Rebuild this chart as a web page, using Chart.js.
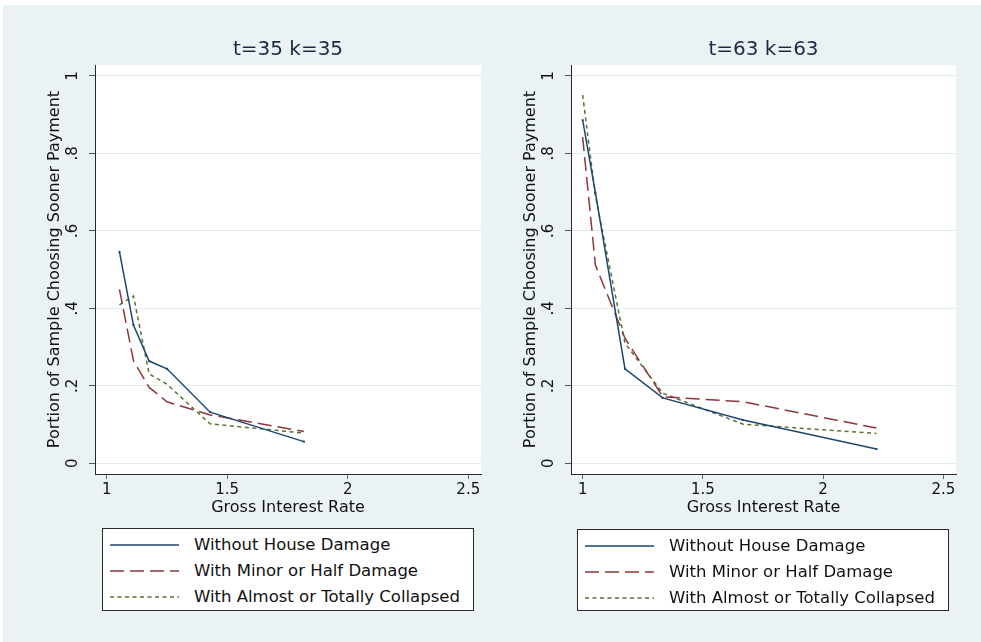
<!DOCTYPE html>
<html>
<head>
<meta charset="utf-8">
<script src="https://cdn.jsdelivr.net/npm/chart.js@4/dist/chart.umd.min.js"></script>
<style>
  html, body { margin: 0; padding: 0; background: #ffffff; width: 981px; height: 642px; overflow: hidden; }
  #bg { position: absolute; left: 3px; top: 5px; width: 978px; height: 637px; background: #EAF2F3; }
  canvas { position: absolute; top: 0; }
  .legend { position: absolute; background: #ffffff; border: 1px solid #2a2a2a; box-sizing: border-box;
            font-family: 'DejaVu Sans', sans-serif; font-size: 16.5px; color: #111111; }
  .row { position: absolute; left: 0; height: 24px; line-height: 24px; white-space: nowrap; }
  .row svg { position: absolute; top: 10px; }
  .row span { position: absolute; }
</style>
</head>
<body>
<div id="bg"></div>
<canvas id="c1" width="490" height="525" style="left:0px"></canvas>
<canvas id="c2" width="491" height="525" style="left:476px"></canvas>
<div id="leg1" class="legend" style="left:102px; top:528px; width:372px; height:83px;"></div>
<div id="leg2" class="legend" style="left:577px; top:529px; width:372px; height:82px;"></div>
<script>
// ---------- data ----------
const panelTitles = ['t=35 k=35', 't=63 k=63'];
const seriesNames = ['Without House Damage', 'With Minor or Half Damage', 'With Almost or Totally Collapsed'];

// left panel (t=35 k=35)
const ratesLeft   = [1.053, 1.111, 1.176, 1.25, 1.429, 1.818];
const noDamageL   = [0.546, 0.357, 0.264, 0.244, 0.132, 0.056];
const minorL      = [0.449, 0.265, 0.196, 0.159, 0.125, 0.082];
const collapsedL  = [0.409, 0.432, 0.231, 0.204, 0.102, 0.078];

// right panel (t=63 k=63)
const ratesRight  = [1.0, 1.053, 1.176, 1.333, 1.667, 2.222];
const noDamageR   = [0.886, 0.699, 0.244, 0.169, 0.112, 0.037];
const minorR      = [0.842, 0.512, 0.323, 0.172, 0.159, 0.091];
const collapsedR  = [0.951, 0.690, 0.310, 0.181, 0.101, 0.077];

const xTickValues = [1, 1.5, 2, 2.5];
const xTickLabels = ['1', '1.5', '2', '2.5'];
const yTickValues = [0, 0.2, 0.4, 0.6, 0.8, 1];
const yTickLabels = ['0', '.2', '.4', '.6', '.8', '1'];

const xAxisTitle = 'Gross Interest Rate';
const yAxisTitle = 'Portion of Sample Choosing Sooner Payment';

// ---------- styles ----------
const colors = ['#1A476F', '#90353B', '#55752F'];
const dashes = [[], [14, 6], [4, 3.5]];
const FONT = "'DejaVu Sans', sans-serif";

const whiteArea = {
  id: 'whiteArea',
  beforeDraw(chart) {
    const { ctx, chartArea: a } = chart;
    ctx.save();
    ctx.fillStyle = '#ffffff';
    ctx.fillRect(a.left, a.top, a.right - a.left, a.bottom - a.top);
    ctx.restore();
  }
};

function pts(xs, ys) { return xs.map((x, i) => ({ x: x, y: ys[i] })); }

function makeChart(id, title, xs, seriesList, padRight) {
  const canvas = document.getElementById(id);
  const H = canvas.height;
  return new Chart(canvas, {
    type: 'line',
    data: {
      datasets: seriesList.map((ys, k) => ({
        label: seriesNames[k],
        data: pts(xs, ys),
        borderColor: colors[k],
        backgroundColor: colors[k],
        borderWidth: 1.5,
        borderDash: dashes[k],
        tension: 0,
        fill: false,
        pointRadius: k === 0 ? 1.4 : 0,
        pointStyle: 'rect',
        pointBorderWidth: 0,
        pointHoverRadius: 0
      }))
    },
    options: {
      responsive: false,
      animation: false,
      devicePixelRatio: 1,
      events: [],
      layout: { padding: { left: 35, top: 38, right: padRight, bottom: 0 } },
      plugins: {
        legend: { display: false },
        tooltip: { enabled: false },
        title: {
          display: true, text: title, fullSize: false,
          color: '#1c2a48',
          font: { family: FONT, size: 20, weight: 'normal', lineHeight: 1.2 },
          padding: { top: 0, bottom: 3 }
        }
      },
      scales: {
        x: {
          type: 'linear', position: 'bottom', bounds: 'data',
          min: 0.9515, max: 2.5527,
          afterBuildTicks: s => { s.ticks = xTickValues.map(v => ({ value: v })); },
          afterFit: s => { s.height = H - 474; },
          ticks: {
            color: '#111111', padding: 2, autoSkip: false, maxRotation: 0, minRotation: 0,
            font: { family: FONT, size: 15 },
            callback: (v, i) => xTickLabels[i]
          },
          grid: { drawOnChartArea: false, drawTicks: true, tickLength: 5, color: '#666666', tickColor: '#666666' },
          border: { display: true, color: '#2a2a2a', width: 1 },
          title: {
            display: true, text: xAxisTitle, color: '#111111',
            font: { family: FONT, size: 16, lineHeight: 1.2 },
            padding: { top: 0, bottom: 7.4 }
          }
        },
        y: {
          type: 'linear', position: 'left', bounds: 'data',
          min: -0.0276, max: 1.0284,
          afterBuildTicks: s => { s.ticks = yTickValues.map(v => ({ value: v })); },
          afterFit: s => { s.width = 60; },
          ticks: {
            color: '#111111', padding: 8.5, autoSkip: false, minRotation: 90, maxRotation: 90,
            crossAlign: 'center',
            font: { family: FONT, size: 15 },
            callback: (v, i) => yTickLabels[i]
          },
          grid: { drawOnChartArea: true, drawTicks: true, tickLength: 6, color: '#E3ECEE', lineWidth: 1, tickColor: '#555555' },
          border: { display: true, color: '#2a2a2a', width: 1 },
          title: {
            display: true, text: yAxisTitle, color: '#111111',
            font: { family: FONT, size: 16, lineHeight: 1.2 },
            padding: { top: 10.4, bottom: 0 }
          }
        }
      }
    },
    plugins: [whiteArea]
  });
}

makeChart('c1', panelTitles[0], ratesLeft, [noDamageL, minorL, collapsedL], 9);
makeChart('c2', panelTitles[1], ratesRight, [noDamageR, minorR, collapsedR], 11);

// ---------- legends (HTML) ----------
function buildLegend(id) {
  const box = document.getElementById(id);
  const rowCenters = [16, 42, 68];
  seriesNames.forEach((name, k) => {
    const row = document.createElement('div');
    row.className = 'row';
    row.style.top = (rowCenters[k] - 12) + 'px';
    row.style.width = '100%';
    const dash = dashes[k].length ? dashes[k].join(' ') : 'none';
    row.innerHTML =
      '<svg width="70" height="4" style="left:7px"><line x1="0" y1="2" x2="69" y2="2" stroke="' + colors[k] +
      '" stroke-width="1.5" stroke-dasharray="' + dash + '"/></svg>' +
      '<span style="left:91px">' + name + '</span>';
    box.appendChild(row);
  });
}
buildLegend('leg1');
buildLegend('leg2');
</script>
</body>
</html>
